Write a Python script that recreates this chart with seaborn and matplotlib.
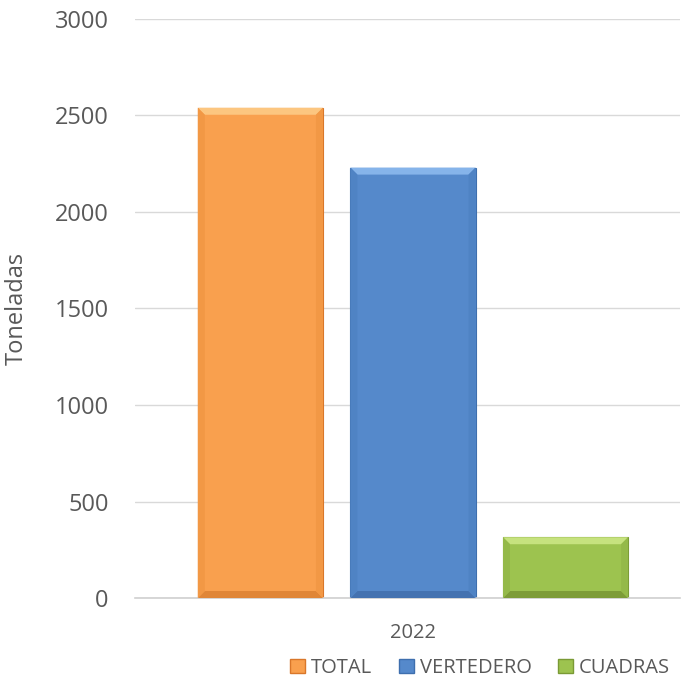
import matplotlib
matplotlib.use("Agg")
import matplotlib.pyplot as plt
import seaborn as sns
import pandas as pd
from matplotlib.patches import Patch, Polygon
from matplotlib.transforms import IdentityTransform

years = ["2022"]
series = ["TOTAL", "VERTEDERO", "CUADRAS"]
values = [2540, 2230, 315]
yticks = [0, 500, 1000, 1500, 2000, 2500, 3000]
colors = ["#F9A04E", "#5589CB", "#9DC34F"]
tops = ["#FCC680", "#86B4EA", "#C6E27E"]
bottoms = ["#E08637", "#4472B0", "#7D9C38"]
sides = ["#F29845", "#4F83C4", "#94B949"]
edges = ["#D9772A", "#3E6FAE", "#7A9A35"]

df = pd.DataFrame({"year": years * len(series), "serie": series, "value": values})

sns.set_theme(style="white")
plt.rcParams["font.family"] = ["Open Sans", "DejaVu Sans"]
txt = "#595959"

fig = plt.figure(figsize=(6.83, 6.90), dpi=100)
ax = fig.add_axes([0.1977, 0.1333, 0.7979, 0.8392])

sns.barplot(data=df, x="year", y="value", hue="serie", hue_order=series,
            palette=colors, width=0.84, gap=0.18, ax=ax, legend=False,
            saturation=1)

for p, ec in zip(ax.patches, edges):
    p.set_edgecolor(ec)
    p.set_linewidth(0.8)

ax.set_ylim(0, 3000)
ax.set_xlim(-0.51, 0.49)
ax.set_yticks(yticks)
ax.set_yticklabels([str(v) for v in yticks])
ax.yaxis.grid(True, color="#D9D9D9", linewidth=1)
ax.set_axisbelow(True)
for s in ["left", "right", "top"]:
    ax.spines[s].set_visible(False)
ax.spines["bottom"].set_color("#D0D0D0")
ax.spines["bottom"].set_linewidth(1.2)
ax.tick_params(axis="both", length=0, colors=txt)
ax.tick_params(axis="y", labelsize=17, pad=19)
ax.tick_params(axis="x", labelsize=14.5, pad=18)
ax.set_xlabel("")
ax.set_ylabel("Toneladas", fontsize=17, color=txt)
ax.yaxis.set_label_coords(-0.195, 0.5)

# bevel effect derived from the drawn bars
fig.canvas.draw()
b = 7
bars = list(ax.patches)
for p, tc, bc, sc in zip(bars, tops, bottoms, sides):
    bb = p.get_window_extent()
    x0, y0, x1, y1 = bb.x0, bb.y0, bb.x1, bb.y1
    polys = [
        ([(x0, y1), (x1, y1), (x1 - b, y1 - b), (x0 + b, y1 - b)], tc),
        ([(x0, y0), (x1, y0), (x1 - b, y0 + b), (x0 + b, y0 + b)], bc),
        ([(x0, y0), (x0 + b, y0 + b), (x0 + b, y1 - b), (x0, y1)], sc),
        ([(x1, y0), (x1 - b, y0 + b), (x1 - b, y1 - b), (x1, y1)], sc),
    ]
    for pts, c in polys:
        fig.patches.append(Polygon(pts, closed=True, facecolor=c, edgecolor="none",
                                   transform=IdentityTransform(), figure=fig))

handles = [Patch(facecolor=c, edgecolor=e) for c, e in zip(colors, edges)]
fig.legend(handles, series, loc="center", bbox_to_anchor=(0.703, 0.032),
           ncol=3, frameon=False, fontsize=14.5, labelcolor=txt,
           handlelength=0.75, handleheight=0.75, handletextpad=0.3,
           columnspacing=1.3)

fig.savefig("out.png", dpi=100)
